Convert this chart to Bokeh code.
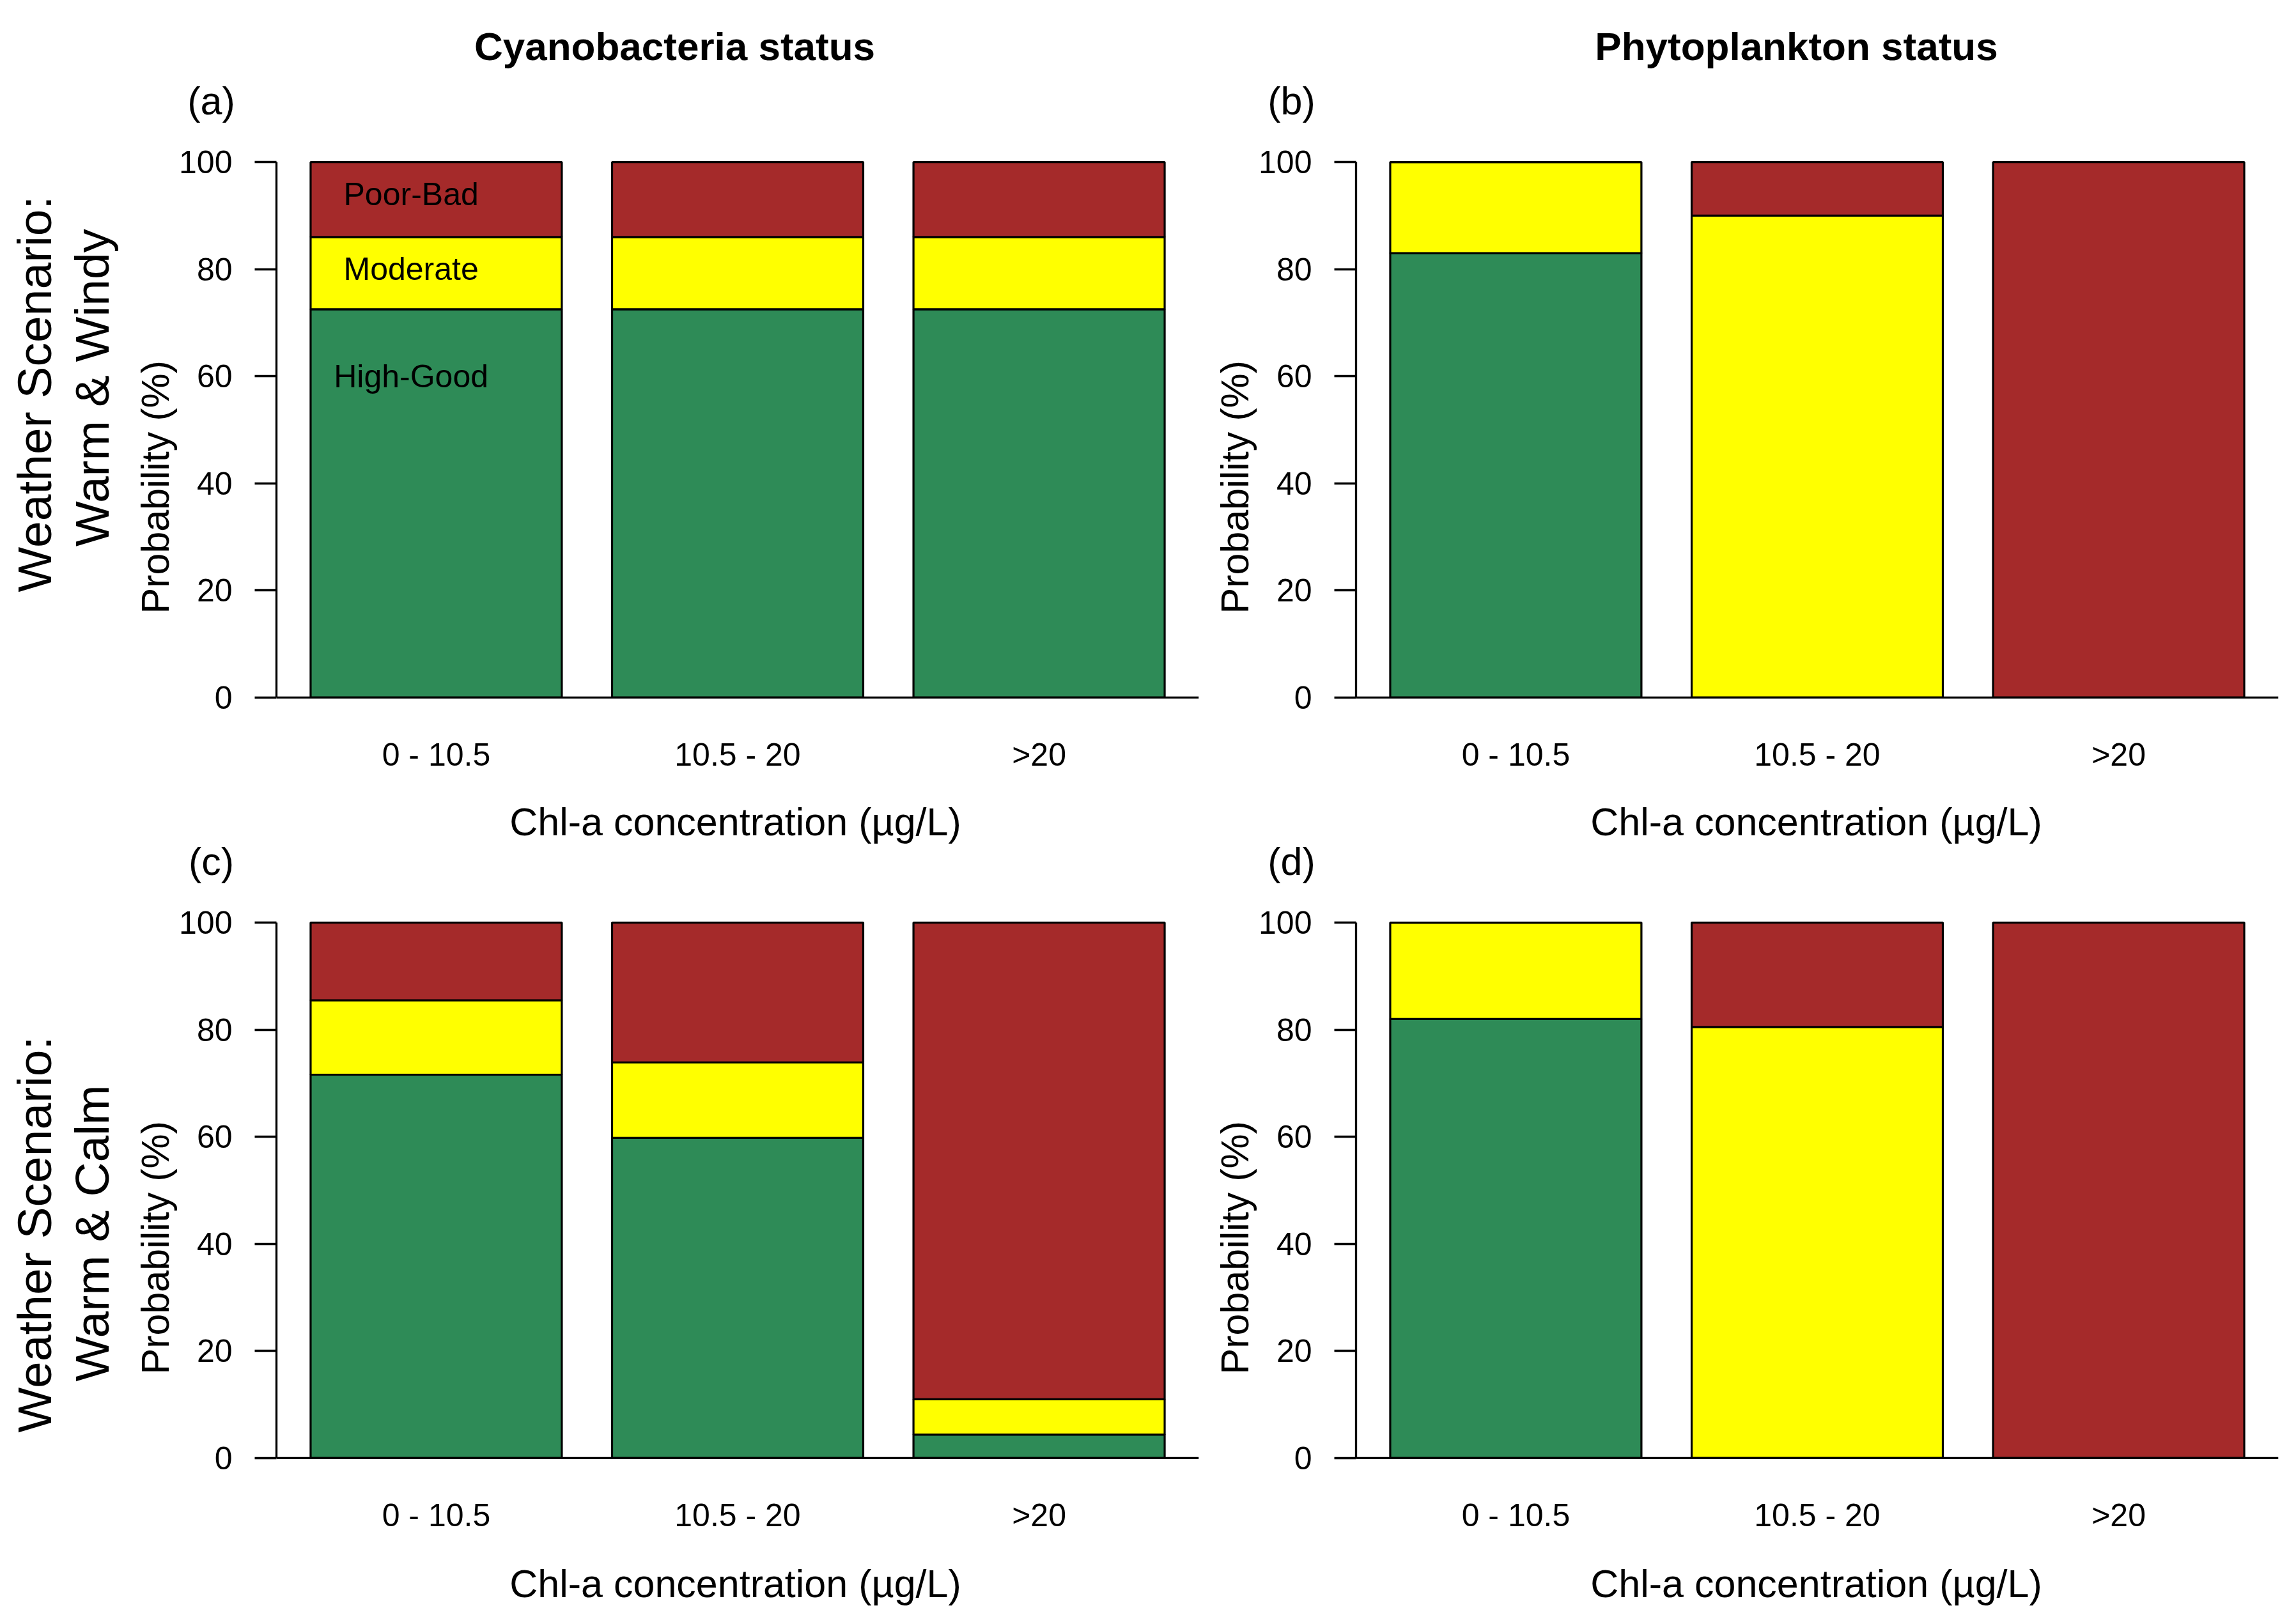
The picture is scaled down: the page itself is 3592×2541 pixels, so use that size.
import math
from bokeh.plotting import figure
from bokeh.models import (Range1d, FixedTicker, Span, Label, ColumnDataSource,
                          CustomJSTickFormatter, Title)
from bokeh.layouts import column, row
from bokeh.embed import file_html
from bokeh.resources import INLINE

# ---------------- data ----------------
categories = ["0 - 10.5", "10.5 - 20", ">20"]
status_labels = ["High-Good", "Moderate", "Poor-Bad"]
status_label_y = [60, 80, 94]
colors = ["#2E8B57", "#FFFF00", "#A52A2A"]
yticks = [0, 20, 40, 60, 80, 100]

col_titles = ["Cyanobacteria status", "Phytoplankton status"]
row_titles = [("Weather Scenario:", "Warm & Windy"), ("Weather Scenario:", "Warm & Calm")]
panel_letters = [["(a)", "(b)"], ["(c)", "(d)"]]
x_title = "Chl-a concentration (\u00b5g/L)"
y_title = "Probability (%)"

# Warm & Windy
cyano_windy_good = [72.5, 72.5, 72.5]
cyano_windy_mod = [13.5, 13.5, 13.5]
cyano_windy_poor = [14.0, 14.0, 14.0]
phyto_windy_good = [83.0, 0.0, 0.0]
phyto_windy_mod = [17.0, 90.0, 0.0]
phyto_windy_poor = [0.0, 10.0, 100.0]
# Warm & Calm
cyano_calm_good = [71.6, 59.8, 4.4]
cyano_calm_mod = [13.9, 14.1, 6.6]
cyano_calm_poor = [14.5, 26.1, 89.0]
phyto_calm_good = [82.0, 0.0, 0.0]
phyto_calm_mod = [18.0, 80.5, 0.0]
phyto_calm_poor = [0.0, 19.5, 100.0]

panels = [
    [(cyano_windy_good, cyano_windy_mod, cyano_windy_poor),
     (phyto_windy_good, phyto_windy_mod, phyto_windy_poor)],
    [(cyano_calm_good, cyano_calm_mod, cyano_calm_poor),
     (phyto_calm_good, phyto_calm_mod, phyto_calm_poor)],
]

# ---------------- layout ----------------
FONT = "Liberation Sans"
TOTAL_W = 3576
X0, X1 = 0.064, 3.736
Y0, Y1 = -0.6, 100.6
FW, FH = 1443, 848
STRIP_W = 200
PANEL_W = 1688
col_left = [232, 233]
col_right = [PANEL_W - FW - 232, PANEL_W - FW - 233]
PANEL_TOP, PANEL_BOTTOM = 30, 144
PANEL_H = PANEL_TOP + FH + PANEL_BOTTOM
HEADER1_H, HEADER2_H, FOOTER_H = 218, 168, 95
bar_x = [0.2 + 0.5 + i * 1.2 for i in range(len(categories))]


def text_fig(W, H, top=0, bottom=0):
    # frame spans [top, H-bottom] in pixels; data coordinates equal pixel coordinates
    f = figure(width=W, height=H, x_range=Range1d(0, W), y_range=Range1d(bottom, H - top),
               x_axis_type=None, y_axis_type=None, toolbar_location=None,
               output_backend="svg", min_border_left=0, min_border_right=0,
               min_border_top=top, min_border_bottom=bottom, outline_line_color=None)
    f.grid.visible = False
    return f


def put(f, H, cx, cy, text, size, angle=0.0, style="normal", align="center"):
    f.add_layout(Label(x=cx, y=H - cy, text=text, text_font=FONT, text_font_size=size,
                       text_font_style=style, text_align=align, text_baseline="middle",
                       angle=angle, text_color="black"))


def panel(r, c):
    good, mod, poor = panels[r][c]
    p = figure(width=PANEL_W, height=PANEL_H, x_range=Range1d(X0, X1), y_range=Range1d(Y0, Y1),
               output_backend="svg", toolbar_location=None,
               min_border_left=col_left[c], min_border_right=col_right[c],
               min_border_top=PANEL_TOP, min_border_bottom=PANEL_BOTTOM)
    p.outline_line_color = None
    p.xgrid.visible = False
    p.ygrid.visible = False

    src = ColumnDataSource(dict(x=bar_x, good=good, mod=mod, poor=poor))
    p.vbar_stack(["good", "mod", "poor"], x="x", width=1.0, source=src,
                 fill_color=colors, line_color="black", line_width=3.2)
    p.add_layout(Span(location=0, dimension="width", line_color="black", line_width=3.3))

    ya = p.yaxis[0]
    ya.ticker = FixedTicker(ticks=yticks, minor_ticks=[])
    ya.bounds = (0, 100)
    ya.axis_line_width = 3.3
    ya.major_tick_line_width = 3.3
    ya.major_tick_in = 0
    ya.major_tick_out = 34
    ya.minor_tick_line_color = None
    ya.major_label_standoff = 35
    ya.major_label_text_font = FONT
    ya.major_label_text_font_size = "50px"
    ya.major_label_text_color = "black"

    xa = p.xaxis[0]
    xa.ticker = FixedTicker(ticks=bar_x, minor_ticks=[])
    xa.formatter = CustomJSTickFormatter(args=dict(labels=categories), code="return labels[index]")
    xa.axis_line_color = None
    xa.major_tick_line_color = None
    xa.minor_tick_line_color = None
    xa.major_tick_in = 0
    xa.major_tick_out = 0
    xa.major_label_standoff = 56
    xa.major_label_text_font = FONT
    xa.major_label_text_font_size = "50px"
    xa.major_label_text_color = "black"

    p.add_layout(Title(text=y_title, align="left", offset=136, standoff=2, text_font=FONT,
                       text_font_size="61px", text_font_style="normal", text_color="black"), "left")

    if r == 0 and c == 0:
        for t, yv in zip(status_labels, status_label_y):
            p.add_layout(Label(x=0.6, y=yv, text=t, text_font=FONT, text_font_size="50px",
                               text_align="center", text_baseline="middle", text_color="black"))
    return p


# header above row 1: column titles and panel letters (a), (b)
header1 = text_fig(TOTAL_W, HEADER1_H)
put(header1, HEADER1_H, 1055, 72, col_titles[0], "62px", style="bold")
put(header1, HEADER1_H, 2810, 72, col_titles[1], "62px", style="bold")
put(header1, HEADER1_H, 330, 157, panel_letters[0][0], "61px")
put(header1, HEADER1_H, 2020, 157, panel_letters[0][1], "61px")

# band between rows: x-axis titles of row 1 and letters (c), (d)
header2 = text_fig(TOTAL_W, HEADER2_H)
put(header2, HEADER2_H, 1150, 45, x_title, "61px")
put(header2, HEADER2_H, 2841, 45, x_title, "61px")
put(header2, HEADER2_H, 330, 107, panel_letters[1][0], "61px")
put(header2, HEADER2_H, 2020, 107, panel_letters[1][1], "61px")

# footer: x-axis titles of row 2
footer = text_fig(TOTAL_W, FOOTER_H)
put(footer, FOOTER_H, 1150, 47, x_title, "61px")
put(footer, FOOTER_H, 2841, 47, x_title, "61px")

# left strips with the weather scenario names (same borders as the panels they sit next to)
strip1 = text_fig(STRIP_W, PANEL_H, top=PANEL_TOP, bottom=PANEL_BOTTOM)
put(strip1, PANEL_H, 53, 398, row_titles[0][0], "75px", angle=math.pi / 2)
put(strip1, PANEL_H, 143, 388, row_titles[0][1], "75px", angle=math.pi / 2)
strip2 = text_fig(STRIP_W, PANEL_H, top=PANEL_TOP, bottom=PANEL_BOTTOM)
put(strip2, PANEL_H, 53, 523, row_titles[1][0], "75px", angle=math.pi / 2)
put(strip2, PANEL_H, 143, 521, row_titles[1][1], "75px", angle=math.pi / 2)

layout = column(
    header1,
    row(strip1, panel(0, 0), panel(0, 1)),
    header2,
    row(strip2, panel(1, 0), panel(1, 1)),
    footer,
)
open("out.html", "w").write(file_html(layout, INLINE))
